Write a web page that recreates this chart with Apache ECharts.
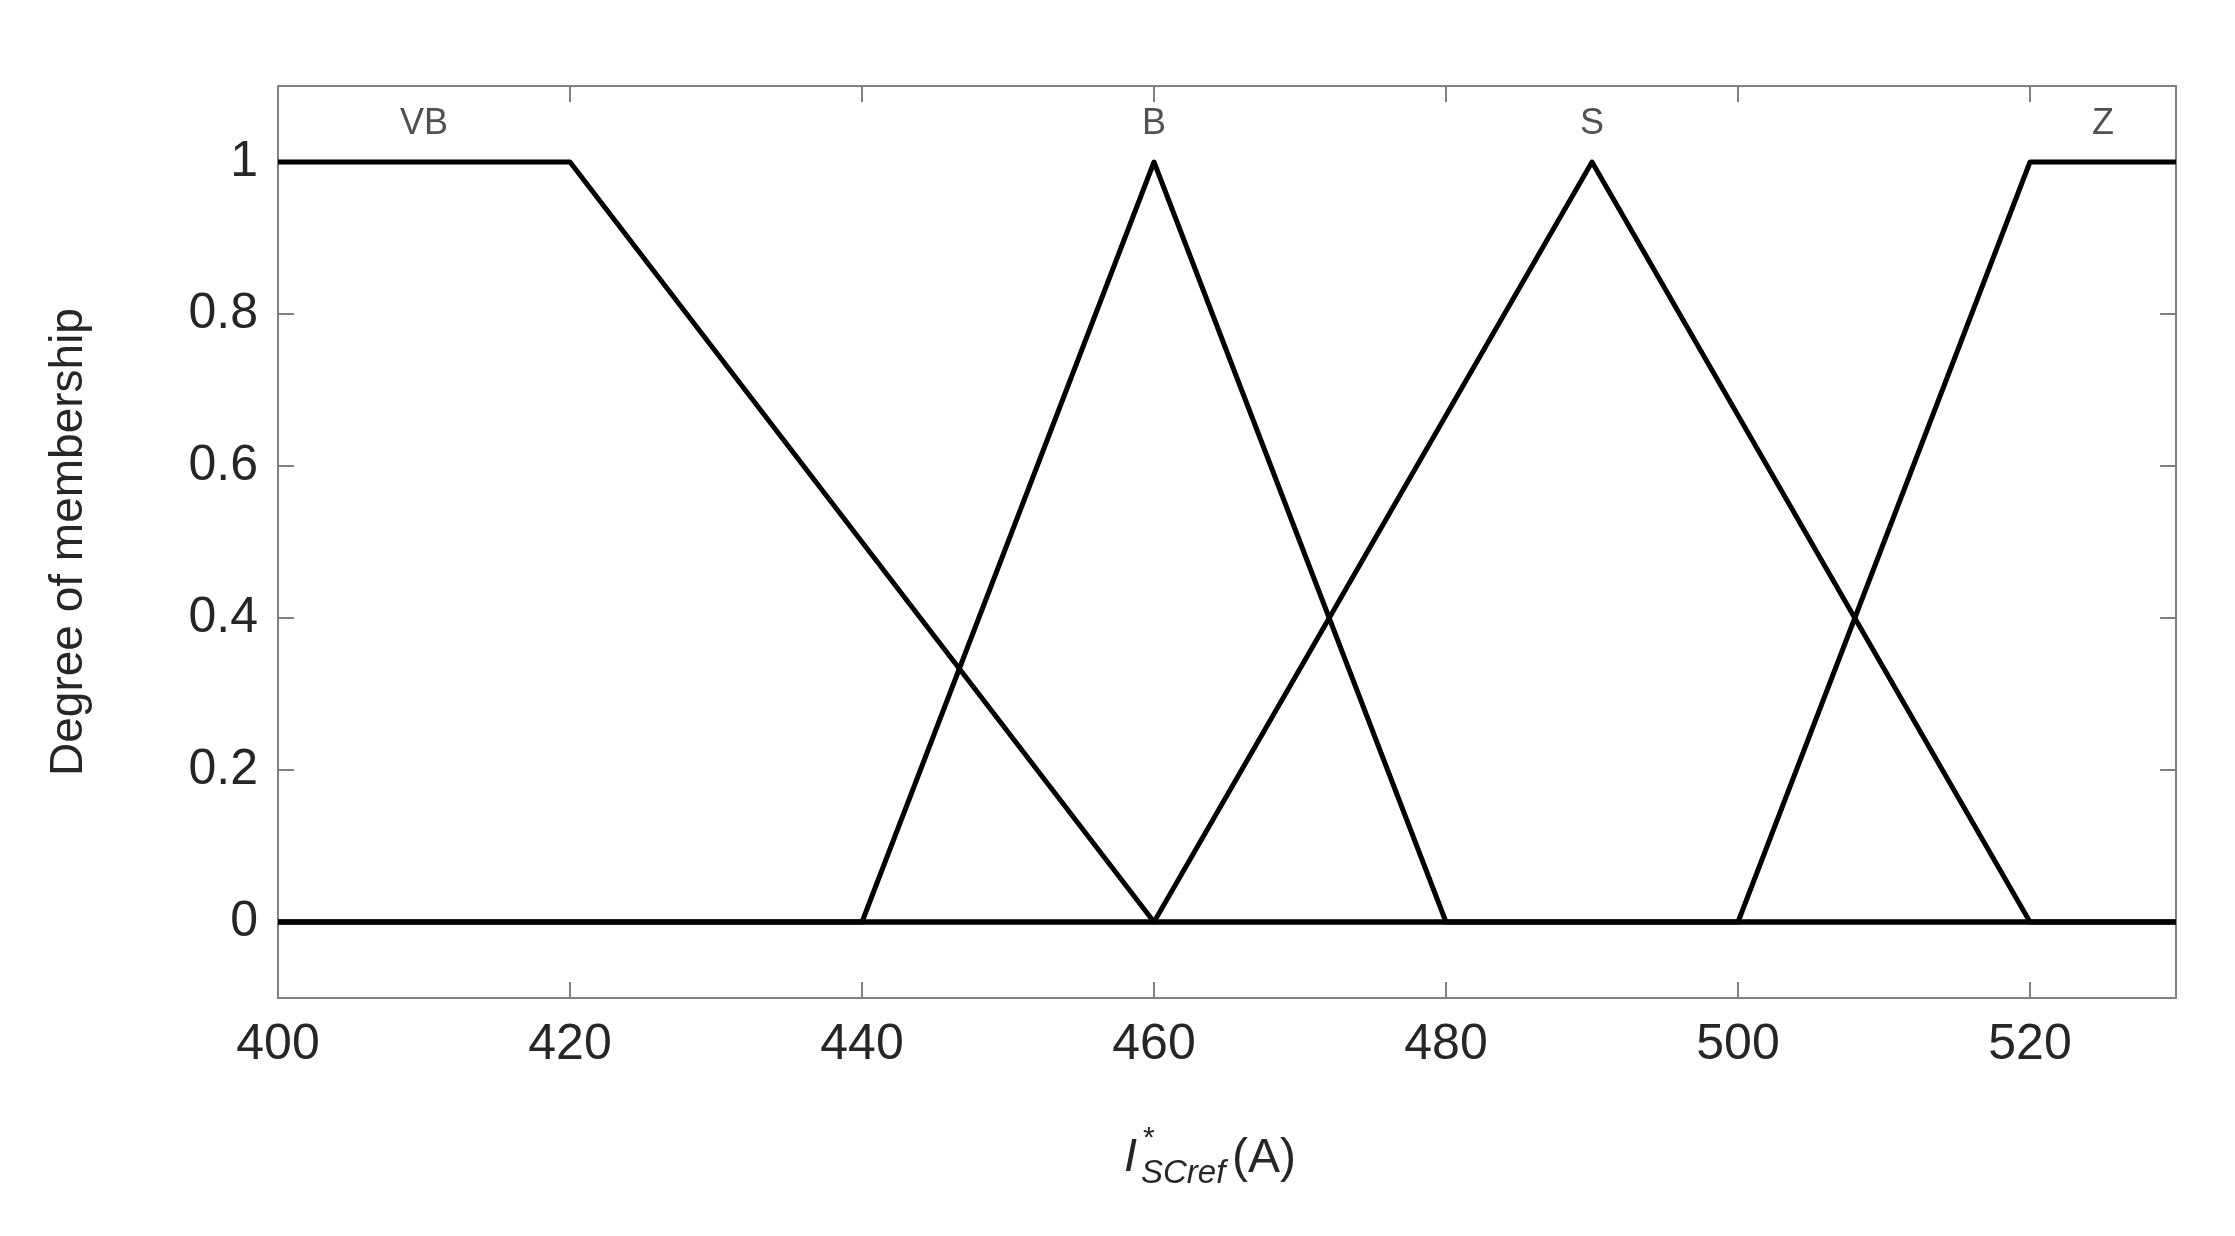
<!DOCTYPE html>
<html>
<head>
<meta charset="utf-8">
<script src="https://cdn.jsdelivr.net/npm/echarts@6/dist/echarts.min.js"></script>
<style>
  html, body { margin: 0; padding: 0; background: #fff; }
  #chart { width: 2235px; height: 1236px; }
</style>
</head>
<body>
<div id="chart"></div>
<script>
  // membership functions, vertices [x, degree]
  const mfVB = [[400, 1], [420, 1], [460, 0], [530, 0]];
  const mfB = [[400, 0], [440, 0], [460, 1], [480, 0], [530, 0]];
  const mfS = [[400, 0], [460, 0], [490, 1], [520, 0], [530, 0]];
  const mfZ = [[400, 0], [500, 0], [520, 1], [530, 1]];

  const mfNames = ['VB', 'B', 'S', 'Z'];
  const mfLabelX = [410, 460, 490, 525];
  const mfLabelY = 1.05;

  const xTicks = [400, 420, 440, 460, 480, 500, 520];
  const yTicks = [0, 0.2, 0.4, 0.6, 0.8, 1];

  const gray = '#808080';
  const textColor = '#262626';
  const font = '"Liberation Sans", Arial, sans-serif';

  let myChart = echarts.init(document.getElementById('chart'));

  let lineSeries = [mfVB, mfB, mfS, mfZ].map(function (d, i) {
    return {
      name: mfNames[i],
      type: 'line',
      data: d,
      symbol: 'none',
      silent: true,
      lineStyle: { color: '#000', width: 5, join: 'round' },
      z: 3
    };
  });

  let boxAxisX = {
    min: 400, max: 530,
    axisLine: { onZero: false, lineStyle: { color: gray, width: 2 } },
    axisTick: { inside: true, length: 16, customValues: xTicks, lineStyle: { color: gray, width: 2 } },
    splitLine: { show: false }
  };
  let boxAxisY = {
    min: -0.1, max: 1.1,
    axisLine: { onZero: false, lineStyle: { color: gray, width: 2 } },
    axisTick: { inside: true, length: 16, customValues: yTicks, lineStyle: { color: gray, width: 2 } },
    splitLine: { show: false }
  };

  let option = {
    backgroundColor: '#fff',
    animation: false,
    grid: { left: 278, right: 59, top: 86, bottom: 238 },
    xAxis: [
      Object.assign({}, boxAxisX, {
        type: 'value', position: 'bottom',
        axisLabel: {
          customValues: xTicks, margin: 22,
          fontSize: 50, fontFamily: font, color: textColor
        }
      }),
      Object.assign({}, boxAxisX, {
        type: 'value', position: 'top',
        axisLabel: { show: false }
      })
    ],
    yAxis: [
      Object.assign({}, boxAxisY, {
        type: 'value', position: 'left',
        name: 'Degree of membership',
        nameLocation: 'middle',
        nameGap: 186,
        nameTextStyle: { fontSize: 46, fontFamily: font, color: textColor },
        axisLabel: {
          customValues: yTicks, margin: 20,
          fontSize: 50, fontFamily: font, color: textColor
        }
      }),
      Object.assign({}, boxAxisY, {
        type: 'value', position: 'right',
        axisLabel: { show: false }
      })
    ],
    series: lineSeries.concat([{
      type: 'scatter',
      symbolSize: 0,
      silent: true,
      data: mfNames.map(function (n, i) { return { value: [mfLabelX[i], mfLabelY], name: n }; }),
      label: {
        show: true, position: 'inside',
        formatter: '{b}',
        fontSize: 36, fontFamily: font, color: textColor
      }
    }]),
    graphic: [
      { type: 'text', left: 1124, top: 1134, style: { text: 'I', font: 'italic 47px ' + font, fill: textColor } },
      { type: 'text', left: 1143, top: 1124, style: { text: '*', font: '30px ' + font, fill: textColor } },
      { type: 'text', left: 1141, top: 1157, style: { text: 'SCref', font: 'italic 33px ' + font, fill: textColor } },
      { type: 'text', left: 1232, top: 1135, style: { text: '(A)', font: '48px ' + font, fill: textColor } }
    ]
  };

  myChart.setOption(option);
</script>
</body>
</html>
